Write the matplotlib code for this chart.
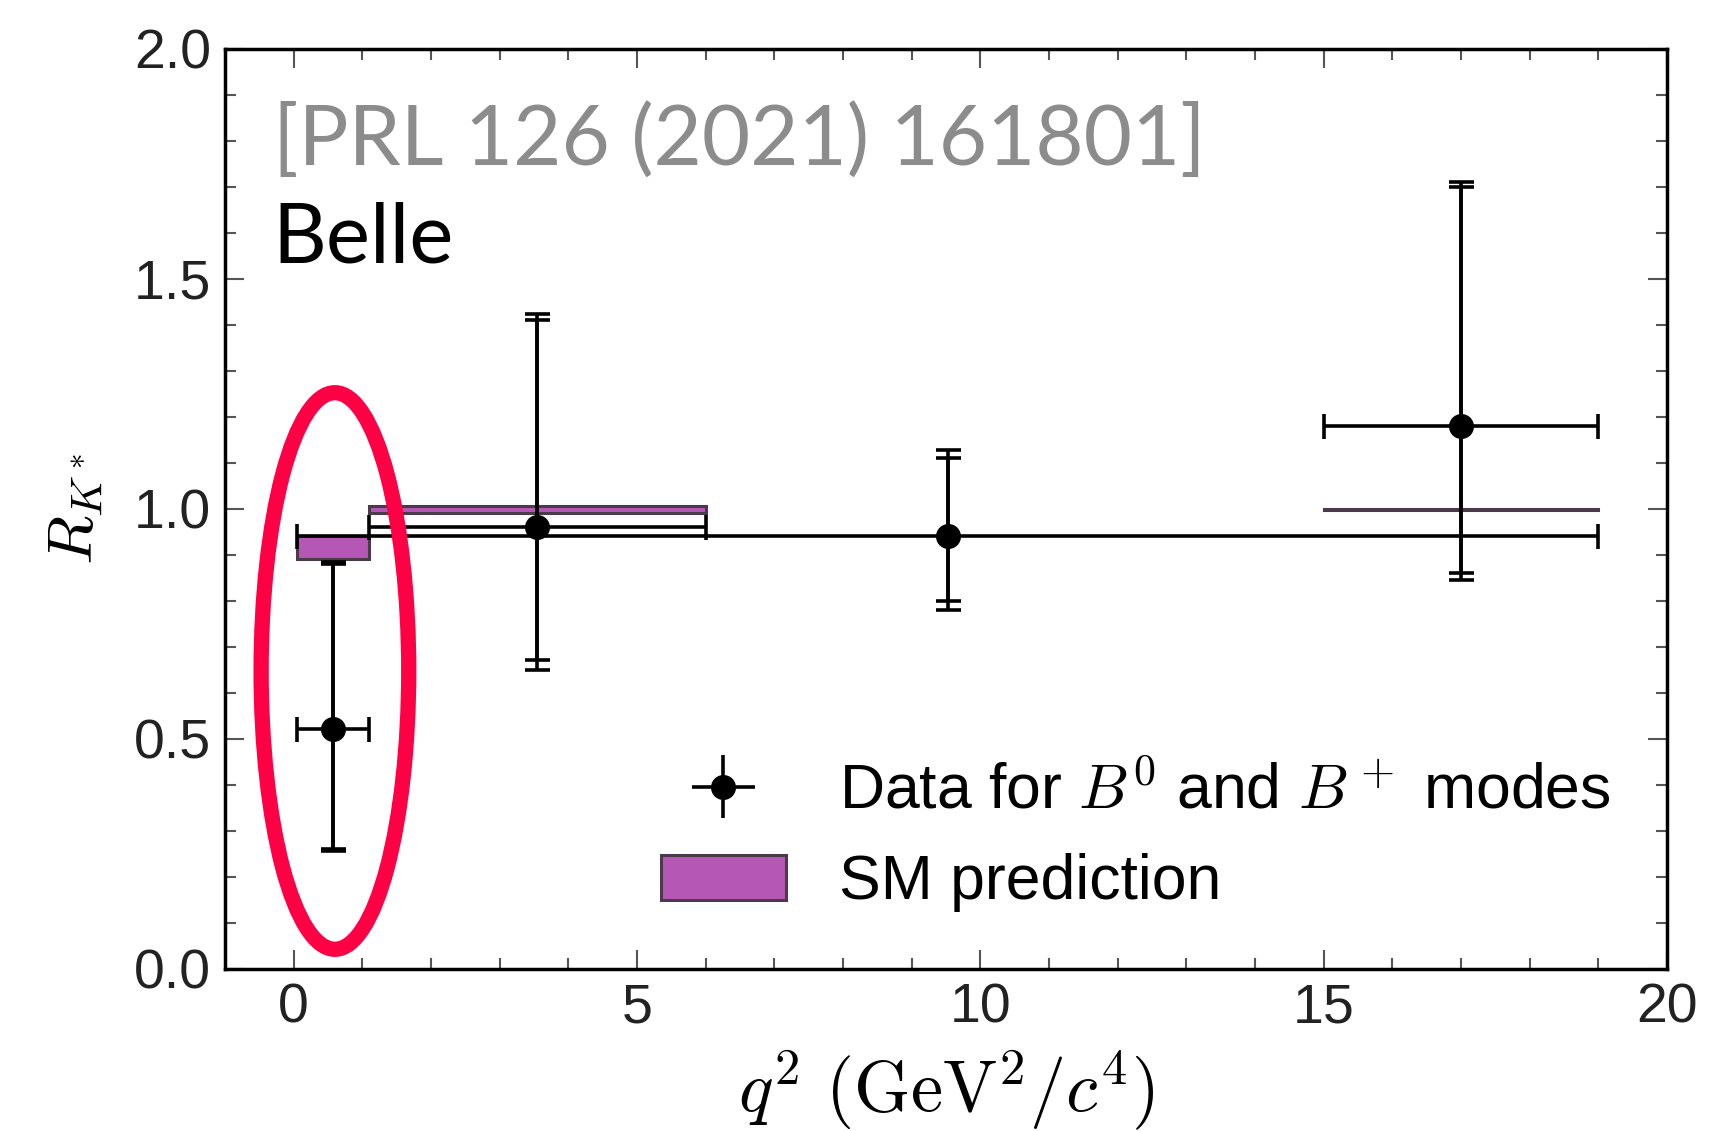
import numpy as np
import matplotlib.pyplot as plt
from matplotlib.patches import Rectangle, Ellipse

plt.rcParams['font.family'] = ['Liberation Sans', 'DejaVu Sans']
plt.rcParams['mathtext.fontset'] = 'cm'

# Belle R_K* measurements
q2_lo = [0.045, 1.1, 0.045, 15.0]
q2_hi = [1.1, 6.0, 19.0, 19.0]
rk = [0.52, 0.96, 0.94, 1.18]
stat_up = [0.36, 0.45, 0.17, 0.52]
stat_dn = [0.26, 0.29, 0.14, 0.32]
syst = [0.05, 0.11, 0.08, 0.10]

# SM prediction bands
sm_lo = [0.045, 1.1, 15.0]
sm_hi = [1.1, 6.0, 19.0]
sm_min = [0.89, 0.99, 0.998]
sm_max = [0.94, 1.005, 1.0]

q2_lo = np.array(q2_lo); q2_hi = np.array(q2_hi)
x = (q2_lo + q2_hi) / 2
xerr = [x - q2_lo, q2_hi - x]
tot_up = np.sqrt(np.array(stat_up)**2 + np.array(syst)**2)
tot_dn = np.sqrt(np.array(stat_dn)**2 + np.array(syst)**2)

fig = plt.figure(figsize=(17.22, 11.31), dpi=100)
ax = fig.add_axes([0.1307, 0.1436, 0.8373, 0.8134])

purple = '#b557b5'
edge = '#4a3a4a'
for lo, hi, a, b in zip(sm_lo, sm_hi, sm_min, sm_max):
    ax.add_patch(Rectangle((lo, a), hi - lo, b - a, facecolor=purple,
                           edgecolor=edge, lw=2.2, zorder=2))

ax.errorbar(x, rk, yerr=[stat_dn, stat_up], fmt='none', ecolor='k',
            elinewidth=2.6, capsize=9, capthick=2.6, zorder=3)
ax.errorbar(x, rk, xerr=xerr, yerr=[tot_dn, tot_up], fmt='o', color='k',
            ms=17, elinewidth=2.6, capsize=9, capthick=2.6, zorder=4)

# legend proxies
h1 = ax.errorbar([], [], xerr=[1], yerr=[1], fmt='o', color='k', ms=17,
                 elinewidth=2.6, capsize=7, capthick=2.6)
h2 = Rectangle((0, 0), 1, 1, facecolor=purple, edgecolor=edge, lw=2.2)
ax.legend([h1, h2], [r'Data for $B^0$ and $B^+$ modes', 'SM prediction'],
          loc='lower right', bbox_to_anchor=(1.0, 0.0), frameon=False,
          fontsize=45, handlelength=2.0, handleheight=0.75, labelspacing=0.5,
          handletextpad=0.85)

ax.add_patch(Ellipse((0.6, 0.647), 2.15, 1.21, fill=False, edgecolor='#ff0044',
                     lw=11, zorder=6))

ax.text(0.033, 0.873, '[PRL 126 (2021) 161801]', transform=ax.transAxes,
        fontsize=60, color='#8c8c8c', family=['Lato', 'DejaVu Sans'])
ax.text(0.033, 0.768, 'Belle', transform=ax.transAxes, fontsize=60,
        color='k', family=['Lato', 'DejaVu Sans'])

ax.set_xlim(-1, 20)
ax.set_ylim(0, 2)
ax.set_xticks([0, 5, 10, 15, 20])
ax.set_xticks(np.arange(0, 20, 1), minor=True)
ax.set_yticks([0, 0.5, 1.0, 1.5, 2.0])
ax.set_yticks(np.arange(0, 2.0, 0.1), minor=True)
ax.set_yticklabels(['0.0', '0.5', '1.0', '1.5', '2.0'])
ax.tick_params(which='both', direction='in', top=True, right=True,
               colors='#555555', labelcolor='#222222', width=1.5)
ax.tick_params(which='major', length=14, labelsize=40, pad=10)
ax.tick_params(which='minor', length=8)
for s in ax.spines.values():
    s.set_linewidth(2.5)
    s.set_color('k')

ax.set_xlabel(r'$q^2\ (\mathrm{GeV}^2/c^4)$', fontsize=52, labelpad=10)
ax.set_ylabel(r'$R_{K^*}$', fontsize=46, labelpad=20)

fig.savefig('out.png', dpi=100)
